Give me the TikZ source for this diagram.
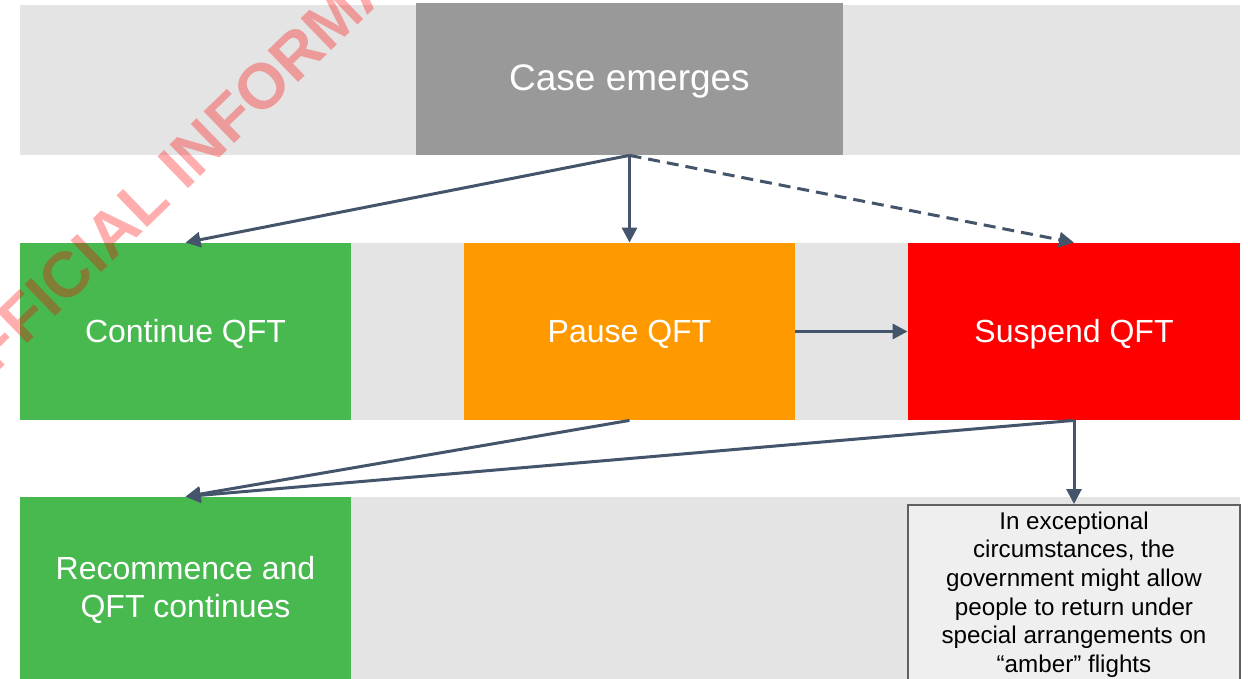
\documentclass[tikz,border=0pt]{standalone}
\usepackage{fontspec}
\setmainfont{Liberation Sans}
\usetikzlibrary{arrows.meta}
\definecolor{band}{HTML}{E4E4E4}
\definecolor{casegray}{HTML}{999999}
\definecolor{qgreen}{HTML}{47B94F}
\definecolor{qorange}{HTML}{FF9900}
\definecolor{qred}{HTML}{FF0000}
\definecolor{arrowc}{HTML}{44546A}
\definecolor{excfill}{HTML}{EFEFEF}
\definecolor{excborder}{HTML}{606060}
\newcommand{\lowertext}[2]{\raisebox{-#1}[\height][\depth]{\begin{tabular}{@{}c@{}}#2\end{tabular}}}
\begin{document}
\begin{tikzpicture}[x=0.5pt,y=-0.5pt,
  stage/.style={rectangle, inner sep=0pt, text=white, align=center,
    font=\fontsize{16}{19}\selectfont, minimum width=165.5pt, minimum height=88.5pt},
  conn/.style={draw=arrowc, line width=1.5pt, -{Triangle[length=7.5pt,width=7.5pt]}},
  dashconn/.style={conn, dash pattern=on 6pt off 3.5pt},
  watermark/.style={rotate=44, text=red, opacity=0.32, inner sep=0pt,
    font=\bfseries\fontsize{32}{32}\selectfont}
]
\useasboundingbox (0,0) rectangle (1248,679);
\clip (0,0) rectangle (1248,679);
% bands
\fill[band] (20,5) rectangle (1240,155);
\fill[band] (20,243) rectangle (1240,420);
\fill[band] (20,497) rectangle (1240,679);
% nodes
\node[stage, fill=casegray, minimum width=213.5pt, minimum height=76pt,
  font=\fontsize{18.5}{22}\selectfont] (case) at (629.5,79) {\lowertext{1.5pt}{Case emerges}};
\node[stage, fill=qgreen] (cont) at (185.5,331.5) {\lowertext{1.5pt}{Continue QFT}};
\node[stage, fill=qorange] (pause) at (629.5,331.5) {\lowertext{1.5pt}{Pause QFT}};
\node[stage, fill=qred, minimum width=166pt] (susp) at (1074,331.5) {\lowertext{1.5pt}{Suspend QFT}};
\node[stage, fill=qgreen, minimum height=91pt] (recom) at (185.5,588)
  {\lowertext{1.5pt}{Recommence and\\QFT continues}};
\node[draw=excborder, line width=1pt, fill=excfill, minimum width=166pt, minimum height=88pt,
  inner sep=0pt, align=center, text=black, font=\fontsize{12.1}{14.3}\selectfont] (exc) at (1074,593)
  {\lowertext{1pt}{In exceptional\\circumstances, the\\government might allow\\people to return under\\special arrangements on\\“amber” flights}};
% connectors
\draw[conn] (case.south) -- (cont.north);
\draw[conn] (case.south) -- (pause.north);
\draw[dashconn] (case.south) -- (susp.north);
\draw[conn] (pause.east) -- (susp.west);
\draw[conn] (pause.south) -- (recom.north);
\draw[conn] (susp.south) -- (recom.north);
\draw[conn] (susp.south) -- (exc.north);
% watermark
\node[watermark] (wm) at (218,129) {OFFICIAL INFORMATION};
\end{tikzpicture}
\end{document}
